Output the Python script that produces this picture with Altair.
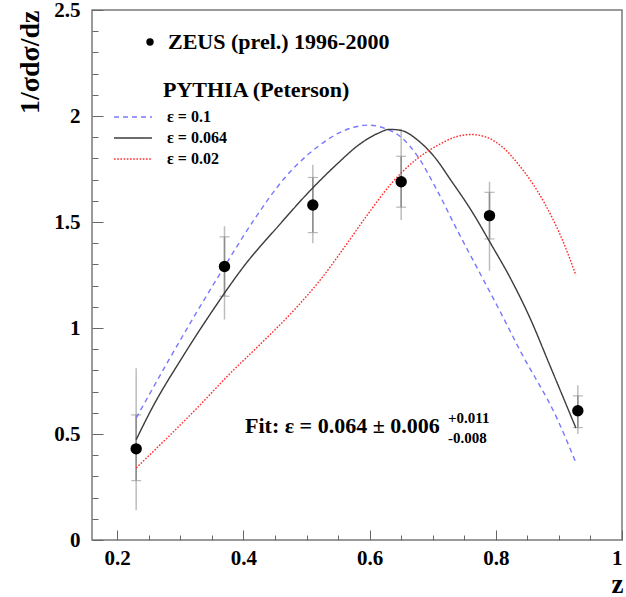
import altair as alt
import pandas as pd

# ---- data ----
z_data = [0.23, 0.37, 0.51, 0.65, 0.79, 0.93]
y_data = [0.43, 1.29, 1.58, 1.69, 1.53, 0.61]
stat_lo = [0.28, 1.15, 1.45, 1.57, 1.42, 0.53]
stat_hi = [0.59, 1.43, 1.71, 1.81, 1.64, 0.68]
tot_lo = [0.14, 1.04, 1.40, 1.51, 1.27, 0.50]
tot_hi = [0.81, 1.48, 1.77, 1.94, 1.69, 0.73]
data_label = "ZEUS (prel.) 1996-2000"

models = ["ε = 0.1", "ε = 0.064", "ε = 0.02"]
model_colors = ["#7878ff", "#3c3c3c", "#ff2a2a"]
model_dashes = [[5, 4], [1, 0], [1.6, 1.6]]

z_eps01 = [0.23, 0.28, 0.324, 0.37, 0.419, 0.466, 0.519, 0.55, 0.575, 0.598, 0.624,
           0.650, 0.677, 0.705, 0.740, 0.771, 0.803, 0.840, 0.898, 0.927]
y_eps01 = [0.575, 0.84, 1.065, 1.29, 1.52, 1.71, 1.858, 1.918, 1.947, 1.957, 1.942,
           1.900, 1.806, 1.66, 1.455, 1.28, 1.10, 0.885, 0.567, 0.364]

z_eps064 = [0.23, 0.255, 0.303, 0.35, 0.403, 0.455, 0.508, 0.55, 0.582, 0.613,
            0.632, 0.650, 0.677, 0.703, 0.729, 0.761, 0.792, 0.824, 0.856,
            0.882, 0.927]
y_eps064 = [0.473, 0.621, 0.861, 1.077, 1.300, 1.480, 1.655, 1.778, 1.862, 1.918,
            1.937, 1.932, 1.884, 1.806, 1.696, 1.555, 1.398, 1.23, 1.035,
            0.85, 0.528]

z_eps002 = [0.23, 0.329, 0.377, 0.429, 0.482, 0.524, 0.561, 0.598, 0.634, 0.676,
            0.708, 0.735, 0.760, 0.785, 0.810, 0.835, 0.877, 0.908, 0.927]
y_eps002 = [0.34, 0.63, 0.78, 0.93, 1.09, 1.235, 1.385, 1.54, 1.68, 1.80,
            1.862, 1.900, 1.913, 1.900, 1.855, 1.775, 1.59, 1.398, 1.249]

x_major = [0.2, 0.4, 0.6, 0.8, 1.0]
x_minor = [0.25, 0.3, 0.35, 0.45, 0.5, 0.55, 0.65, 0.7, 0.75, 0.85, 0.9, 0.95]
y_major = [0, 0.5, 1, 1.5, 2, 2.5]
y_minor = [0.1, 0.2, 0.3, 0.4, 0.6, 0.7, 0.8, 0.9, 1.1, 1.2, 1.3, 1.4,
           1.6, 1.7, 1.8, 1.9, 2.1, 2.2, 2.3, 2.4]

fit_main = "Fit: ε = 0.064 ± 0.006"
fit_up = "+0.011"
fit_dn = "-0.008"
pythia_title = "PYTHIA (Peterson)"

# ---- tables ----
rows = []
for m, zs, ys in zip(models, [z_eps01, z_eps064, z_eps002], [y_eps01, y_eps064, y_eps002]):
    for a, b in zip(zs, ys):
        rows.append({"model": m, "z": a, "y": b})
curves = pd.DataFrame(rows)

points = pd.DataFrame({
    "z": z_data, "y": y_data,
    "stat_lo": stat_lo, "stat_hi": stat_hi,
    "tot_lo": tot_lo, "tot_hi": tot_hi,
    "label": [data_label] * len(z_data),
})

W, H = 530, 530
FONT = "Liberation Serif"

xscale = alt.Scale(domain=[0.16, 1.0], nice=False, zero=False)
yscale = alt.Scale(domain=[0, 2.5], nice=False, zero=False)

# Inward ticks: each axis is moved inside the plot by its tick length (negative
# offset), so its ticks run from the axis line back to the frame; minor ticks
# are shortened with a dash pattern that only draws the part at the frame.
x_is_major = "abs(datum.value * 5 - round(datum.value * 5)) < 0.001"
y_is_major = "abs(datum.value * 2 - round(datum.value * 2)) < 0.001"
XT, YT = 10, 11

x_axis = alt.Axis(values=sorted(x_major + x_minor), offset=-XT, zindex=1,
                  ticks=True, tickSize=XT, tickColor="#666", tickWidth=1,
                  tickDash={"condition": {"test": x_is_major, "value": [40, 1]},
                            "value": [5, 5]},
                  tickDashOffset={"condition": {"test": x_is_major, "value": 0},
                                  "value": 5},
                  labelExpr=f"({x_is_major}) ? format(datum.value, '~g') : ''",
                  labelOverlap=False, grid=False, domain=False,
                  labelFont=FONT, labelFontWeight="bold", labelFontSize=21,
                  labelColor="black", labelPadding=7,
                  title="z", titleFont=FONT, titleFontSize=27, titleFontWeight="bold",
                  titleColor="black", titleX=525, titleY=52 + XT, titleAlign="center",
                  titleBaseline="alphabetic")
y_axis = alt.Axis(values=sorted(y_major + y_minor), offset=-YT, zindex=1,
                  ticks=True, tickSize=YT, tickColor="#666", tickWidth=1,
                  tickDash={"condition": {"test": y_is_major, "value": [40, 1]},
                            "value": [6, 5]},
                  tickDashOffset={"condition": {"test": y_is_major, "value": 0},
                                  "value": 6},
                  labelExpr=f"({y_is_major}) ? format(datum.value, '~g') : ''",
                  labelOverlap=False, grid=False, domain=False,
                  labelFont=FONT, labelFontWeight="bold", labelFontSize=21,
                  labelColor="black", labelPadding=12,
                  title="1/σdσ/dz", titleFont=FONT, titleFontSize=28,
                  titleFontWeight="bold", titleColor="black", titleAngle=270,
                  titleX=-62 - YT, titleY=0, titleAlign="right", titleBaseline="middle")


def X(field):
    return alt.X(field, type="quantitative", scale=xscale, axis=x_axis)


def Y(field):
    return alt.Y(field, type="quantitative", scale=yscale, axis=y_axis)


base = alt.Chart(points)

# error bars (outer = total, inner = statistical)
outer = base.mark_rule(color="#bdbdbd", strokeWidth=1.5).encode(
    x=X("z"), y=Y("tot_lo"), y2="tot_hi:Q")
inner = base.mark_rule(color="#8c8c8c", strokeWidth=1.5).encode(
    x=X("z"), y=Y("stat_lo"), y2="stat_hi:Q")
cap_lo = base.mark_tick(orient="horizontal", color="#9a9a9a", size=10, thickness=1.2).encode(
    x=X("z"), y=Y("stat_lo"))
cap_hi = base.mark_tick(orient="horizontal", color="#9a9a9a", size=10, thickness=1.2).encode(
    x=X("z"), y=Y("stat_hi"))

line_legend = alt.Legend(orient="none", legendX=33, legendY=99, title=None,
                         symbolType="M-3,0H3", symbolSize=160, symbolStrokeWidth=1.5,
                         labelFont=FONT, labelFontWeight="bold", labelFontSize=16,
                         labelColor="black", labelOffset=26, rowPadding=5,
                         padding=0, labelLimit=300)

lines = alt.Chart(curves).mark_line(strokeWidth=1.4, interpolate="monotone").encode(
    x=X("z"), y=Y("y"),
    color=alt.Color("model:N", scale=alt.Scale(domain=models, range=model_colors),
                    legend=line_legend),
    strokeDash=alt.StrokeDash("model:N", scale=alt.Scale(domain=models, range=model_dashes),
                              legend=line_legend),
    detail="model:N",
)

dots = base.mark_point(filled=True, color="black", size=130, opacity=1).encode(
    x=X("z"), y=Y("y"),
    shape=alt.Shape("label:N", scale=alt.Scale(range=["circle"]),
                    legend=alt.Legend(orient="none", legendX=47, legendY=21, title=None,
                                      symbolSize=55, symbolFillColor="black",
                                      symbolStrokeColor="black", symbolStrokeWidth=0,
                                      labelFont=FONT, labelFontWeight="bold",
                                      labelFontSize=22, labelColor="black",
                                      labelOffset=7, padding=0, labelLimit=400)),
)

one = alt.Data(values=[{}])
txt_pythia = alt.Chart(one).mark_text(text=pythia_title, font=FONT, fontWeight="bold",
                                      fontSize=22, align="left", baseline="alphabetic",
                                      color="black").encode(x=alt.value(71), y=alt.value(87))
txt_fit = alt.Chart(one).mark_text(text=fit_main, font=FONT, fontWeight="bold",
                                   fontSize=22, align="left", baseline="alphabetic",
                                   color="black").encode(x=alt.value(153), y=alt.value(423))
txt_up = alt.Chart(one).mark_text(text=fit_up, font=FONT, fontWeight="bold",
                                  fontSize=15, align="left", baseline="alphabetic",
                                  color="black").encode(x=alt.value(356), y=alt.value(413))
txt_dn = alt.Chart(one).mark_text(text=fit_dn, font=FONT, fontWeight="bold",
                                  fontSize=15, align="left", baseline="alphabetic",
                                  color="black").encode(x=alt.value(356), y=alt.value(433))

chart = alt.layer(
    outer, inner, cap_lo, cap_hi, lines, dots,
    txt_pythia, txt_fit, txt_up, txt_dn,
).resolve_scale(color="independent", strokeDash="independent").properties(
    width=W, height=H,
    autosize=alt.AutoSizeParams(type="none"),
    padding={"left": 92, "top": 10, "right": 4, "bottom": 57},
    background="white",
).configure_view(stroke="#7a7a7a", strokeWidth=1.5)

chart.save("out.html", embed_options={"renderer": "svg", "actions": False})
